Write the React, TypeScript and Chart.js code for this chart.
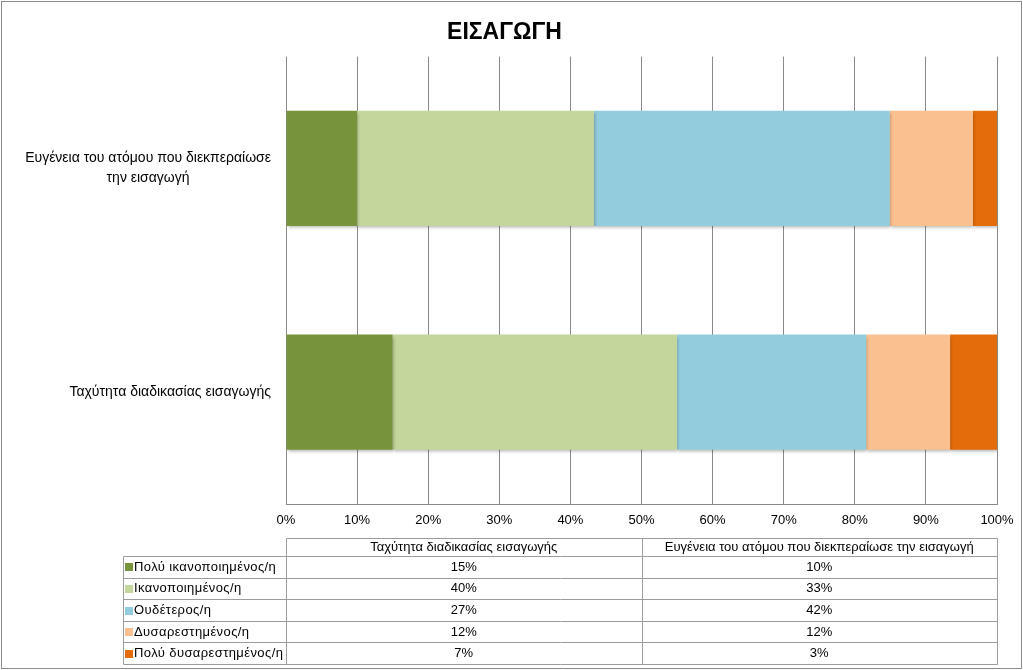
import React, { useEffect, useRef } from 'react';
import { Chart, registerables } from 'chart.js';

Chart.register(...registerables);

const TITLE = 'ΕΙΣΑΓΩΓΗ';
const categories = [
  'Ταχύτητα διαδικασίας εισαγωγής',
  'Ευγένεια του ατόμου που διεκπεραίωσε την εισαγωγή',
];
const categoryLabelLines = [
  ['Ταχύτητα διαδικασίας εισαγωγής'],
  ['Ευγένεια του ατόμου που διεκπεραίωσε', 'την εισαγωγή'],
];
const seriesNames = [
  'Πολύ ικανοποιημένος/η',
  'Ικανοποιημένος/η',
  'Ουδέτερος/η',
  'Δυσαρεστημένος/η',
  'Πολύ δυσαρεστημένος/η',
];
const veryPleased = [15, 10];
const pleased = [40, 33.3];
const neutral = [26.6, 41.6];
const displeased = [11.8, 11.7];
const veryDispleased = [6.6, 3.4];
const seriesColors = ['#77933C', '#C3D69B', '#93CDDD', '#FAC090', '#E46C0A'];
const xTickStep = 10;
const xMax = 100;

const seriesValues = [veryPleased, pleased, neutral, displeased, veryDispleased];

const FONT = '"Liberation Sans", Arial, sans-serif';
const GRID = '#8a8a8a';
const TABLE_LINE = '#9c9c9c';

const framePlugin = {
  id: 'frame',
  beforeDraw(chart: any) {
    const ctx = chart.ctx;
    ctx.save();
    ctx.fillStyle = '#ffffff';
    ctx.fillRect(0, 0, chart.width, chart.height);
    ctx.strokeStyle = '#8c8c8c';
    ctx.lineWidth = 1;
    ctx.strokeRect(1.5, 1.5, chart.width - 3, chart.height - 3);
    ctx.restore();
  },
};

const shadowPlugin = {
  id: 'barShadow',
  beforeDatasetsDraw(chart: any) {
    const ctx = chart.ctx;
    ctx.save();
    ctx.shadowColor = 'rgba(0,0,0,0.28)';
    ctx.shadowBlur = 3;
    ctx.shadowOffsetX = 1;
    ctx.shadowOffsetY = 2;
  },
  afterDatasetsDraw(chart: any) {
    chart.ctx.restore();
  },
};

const yLabelPlugin = {
  id: 'yLabels',
  afterDraw(chart: any) {
    const ctx = chart.ctx;
    const yScale = chart.scales.y;
    const rightEdge = chart.chartArea.left - 15;
    ctx.save();
    ctx.font = `14px ${FONT}`;
    ctx.fillStyle = '#000';
    ctx.textAlign = 'center';
    ctx.textBaseline = 'middle';
    const lineH = 20;
    categoryLabelLines.forEach((lines, i) => {
      const cy = yScale.getPixelForValue(i);
      const widest = Math.max(...lines.map((l) => ctx.measureText(l).width));
      const cx = rightEdge - widest / 2;
      const startY = cy - ((lines.length - 1) * lineH) / 2;
      lines.forEach((l, j) => ctx.fillText(l, cx, startY + j * lineH));
    });
    ctx.restore();
  },
};

const tablePlugin = {
  id: 'dataTable',
  afterDraw(chart: any) {
    const ctx = chart.ctx;
    const { left, right } = chart.chartArea;
    const legendLeft = 123;
    const headerTop = 538;
    const headerBottom = 556;
    const tableBottom = 664;
    const nRows = seriesNames.length;
    const rowH = (tableBottom - headerBottom) / nRows;
    const nCols = categories.length;
    const colW = (right - left) / nCols;
    const px = (v: number) => Math.round(v) + 0.5;

    ctx.save();
    ctx.strokeStyle = TABLE_LINE;
    ctx.lineWidth = 1;
    ctx.beginPath();
    ctx.moveTo(px(left), px(headerTop));
    ctx.lineTo(px(right), px(headerTop));
    for (let r = 0; r <= nRows; r++) {
      const y = px(headerBottom + r * rowH);
      ctx.moveTo(px(legendLeft), y);
      ctx.lineTo(px(right), y);
    }
    ctx.moveTo(px(legendLeft), px(headerBottom));
    ctx.lineTo(px(legendLeft), px(tableBottom));
    for (let c = 0; c <= nCols; c++) {
      const x = px(left + c * colW);
      ctx.moveTo(x, px(headerTop));
      ctx.lineTo(x, px(tableBottom));
    }
    ctx.stroke();

    ctx.font = `13px ${FONT}`;
    ctx.fillStyle = '#000';
    ctx.textBaseline = 'middle';
    ctx.textAlign = 'center';
    categories.forEach((cat, c) => {
      ctx.fillText(cat, left + c * colW + colW / 2, (headerTop + headerBottom) / 2 + 0.5);
    });
    seriesNames.forEach((name, r) => {
      const cy = headerBottom + r * rowH + rowH / 2 + 0.5;
      ctx.fillStyle = seriesColors[r];
      ctx.fillRect(legendLeft + 2, Math.round(cy - 4), 8, 8);
      ctx.fillStyle = '#000';
      ctx.textAlign = 'left';
      (ctx as any).letterSpacing = '0.4px';
      ctx.fillText(name, legendLeft + 11, cy);
      (ctx as any).letterSpacing = '0px';
      ctx.textAlign = 'center';
      seriesValues[r].forEach((v, c) => {
        ctx.fillText(Math.round(v) + '%', left + c * colW + colW / 2, cy);
      });
    });
    ctx.restore();
  },
};

export default function App() {
  const canvasRef = useRef<HTMLCanvasElement | null>(null);

  useEffect(() => {
    document.body.style.margin = '0';
    const canvas = canvasRef.current;
    if (!canvas) return;
    const chart = new Chart(canvas, {
      type: 'bar',
      data: {
        labels: categories,
        datasets: seriesNames.map((name, i) => ({
          label: name,
          data: seriesValues[i],
          backgroundColor: seriesColors[i],
          borderWidth: 0,
          categoryPercentage: 0.515,
          barPercentage: 1,
        })),
      },
      options: {
        indexAxis: 'y',
        responsive: false,
        animation: false,
        devicePixelRatio: 1,
        layout: { padding: { left: 12, right: 26, top: 0, bottom: 0 } },
        plugins: {
          legend: { display: false },
          tooltip: { enabled: false },
          title: {
            display: true,
            text: TITLE,
            color: '#000',
            font: { family: FONT, size: 23, weight: 'bold' },
            padding: { top: 19, bottom: 10 },
          },
        },
        scales: {
          x: {
            stacked: true,
            min: 0,
            max: xMax,
            ticks: {
              stepSize: xTickStep,
              callback: (v: any) => v + '%',
              color: '#000',
              font: { family: FONT, size: 13 },
              padding: 9,
              maxRotation: 0,
            },
            grid: { color: GRID, drawTicks: false, lineWidth: 1 },
            border: { display: true, color: GRID },
            afterFit: (scale: any) => {
              scale.height = 166;
            },
          },
          y: {
            stacked: true,
            reverse: true,
            ticks: { display: false },
            grid: { display: false },
            border: { display: false },
            afterFit: (scale: any) => {
              scale.width = 274;
            },
          },
        },
      },
      plugins: [framePlugin, shadowPlugin, yLabelPlugin, tablePlugin],
    } as any);
    return () => chart.destroy();
  }, []);

  return (
    <div style={{ width: 1023, height: 670, position: 'relative' }}>
      <canvas ref={canvasRef} width={1023} height={670} />
    </div>
  );
}
